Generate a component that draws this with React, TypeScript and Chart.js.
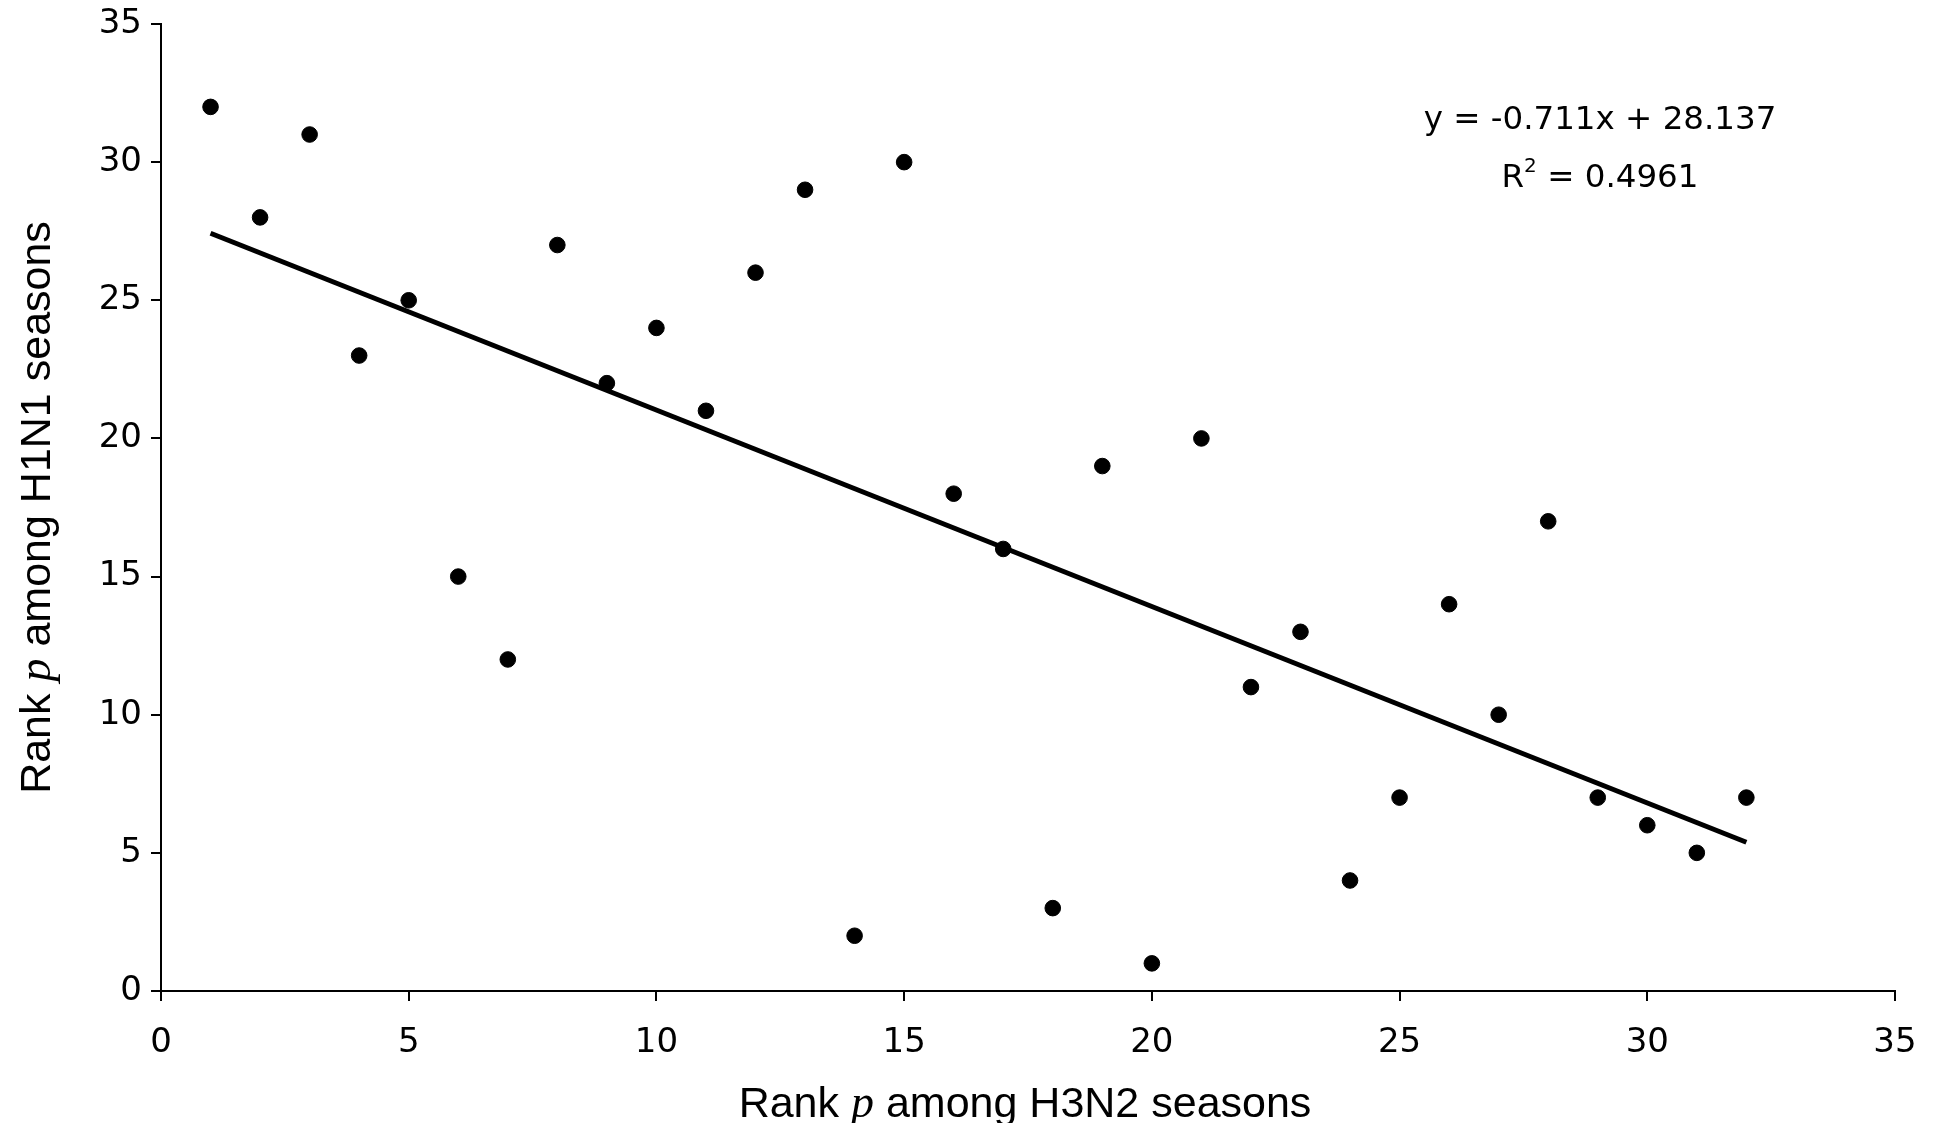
import React, { useEffect, useRef } from "react";
import { Chart, registerables } from "chart.js";

Chart.register(...registerables);

// H3N2 season rank (x) and H1N1 season rank (y)
const h3n2Rank = [1, 2, 3, 4, 5, 6, 7, 8, 9, 10, 11, 12, 13, 14, 15, 16, 17, 18, 19, 20, 21, 22, 23, 24, 25, 26, 27, 28, 29, 30, 31, 32];
const h1n1Rank = [32, 28, 31, 23, 25, 15, 12, 27, 22, 24, 21, 26, 29, 2, 30, 18, 16, 3, 19, 1, 20, 11, 13, 4, 7, 14, 10, 17, 7, 6, 5, 7];

// Linear trend line end points (y = -0.711x + 28.137)
const trendX = [1, 32];
const trendY = [27.426, 5.385];

const equationText = "y = -0.711x + 28.137";
const r2Value = "0.4961";

const xTitleParts = ["Rank ", "p", " among H3N2 seasons"];
const yTitleParts = ["Rank ", "p", " among H1N1 seasons"];

const axisMin = 0;
const axisMax = 35;
const tickStep = 5;

const SANS = "'Liberation Sans', Arial, sans-serif";
const SERIF = "'Liberation Serif', 'Times New Roman', serif";
const TICKFONT = "'DejaVu Sans', Verdana, sans-serif";

function drawTitle(ctx: CanvasRenderingContext2D, parts: string[], cx: number, cy: number, rotate: boolean) {
  ctx.save();
  ctx.translate(cx, cy);
  if (rotate) ctx.rotate(-Math.PI / 2);
  const fonts = [`43px ${SANS}`, `italic 46px ${SERIF}`, `43px ${SANS}`];
  let total = 0;
  const widths: number[] = [];
  parts.forEach((p, i) => {
    ctx.font = fonts[i];
    const w = ctx.measureText(p).width;
    widths.push(w);
    total += w;
  });
  let x = -total / 2;
  ctx.fillStyle = "#000";
  ctx.textBaseline = "middle";
  ctx.textAlign = "left";
  parts.forEach((p, i) => {
    ctx.font = fonts[i];
    ctx.fillText(p, x, 0);
    x += widths[i];
  });
  ctx.restore();
}

const textPlugin = {
  id: "customText",
  afterDraw(chart: any) {
    const ctx: CanvasRenderingContext2D = chart.ctx;
    const area = chart.chartArea;
    drawTitle(ctx, xTitleParts, (area.left + area.right) / 2 - 3, 1097, false);
    drawTitle(ctx, yTitleParts, 30, (area.top + area.bottom) / 2, true);

    // regression equation
    ctx.save();
    ctx.fillStyle = "#000";
    ctx.textBaseline = "middle";
    ctx.textAlign = "center";
    ctx.font = `32.5px ${TICKFONT}`;
    const cx = 1592;
    ctx.fillText(equationText, cx, 113);
    // R² line
    ctx.textAlign = "left";
    const rW = ctx.measureText("R").width;
    const rest = " = " + r2Value;
    const restW = ctx.measureText(rest).width;
    ctx.font = `20px ${TICKFONT}`;
    const supW = ctx.measureText("2").width;
    const total = rW + supW + restW;
    let x = cx - total / 2;
    ctx.font = `32.5px ${TICKFONT}`;
    ctx.fillText("R", x, 171);
    x += rW;
    ctx.font = `20px ${TICKFONT}`;
    ctx.fillText("2", x, 159);
    x += supW;
    ctx.font = `32.5px ${TICKFONT}`;
    ctx.fillText(rest, x, 171);
    ctx.restore();
  },
};

export default function App() {
  const ref = useRef<HTMLCanvasElement | null>(null);

  useEffect(() => {
    if (!ref.current) return;
    const points = h3n2Rank.map((x, i) => ({ x, y: h1n1Rank[i] }));
    const trend = trendX.map((x, i) => ({ x, y: trendY[i] }));
    const axisCommon = {
      type: "linear" as const,
      min: axisMin,
      max: axisMax,
      grid: {
        display: true,
        drawOnChartArea: false,
        drawTicks: true,
        tickLength: 10,
        color: "#000",
        lineWidth: 2,
      },
      border: { display: true, color: "#000", width: 2 },
      ticks: {
        stepSize: tickStep,
        color: "#000",
        font: { family: TICKFONT, size: 34, lineHeight: 1 },
      },
      title: { display: false },
    };
    const chart = new Chart(ref.current, {
      type: "scatter",
      data: {
        datasets: [
          {
            label: "Seasons",
            data: points,
            backgroundColor: "#000",
            borderColor: "#000",
            pointRadius: 7.8,
            pointHoverRadius: 7.8,
            showLine: false,
          },
          {
            label: "Linear trend",
            type: "line",
            data: trend,
            borderColor: "#000",
            borderWidth: 5,
            pointRadius: 0,
            showLine: true,
            fill: false,
          } as any,
        ],
      },
      options: {
        responsive: false,
        animation: false,
        layout: { padding: { left: 0, right: 32, top: 16, bottom: 0 } },
        plugins: {
          legend: { display: false },
          tooltip: { enabled: false },
        },
        scales: {
          x: {
            ...axisCommon,
            position: "bottom",
            ticks: { ...axisCommon.ticks, padding: 25, maxRotation: 0 },
            afterFit: (scale: any) => {
              scale.height = 132;
              scale.paddingLeft = 0;
              scale.paddingRight = 0;
            },
          },
          y: {
            ...axisCommon,
            position: "left",
            ticks: { ...axisCommon.ticks, padding: 9 },
            afterFit: (scale: any) => {
              scale.width = 153;
              scale.paddingTop = 0;
              scale.paddingBottom = 0;
            },
          },
        } as any,
      },
      plugins: [textPlugin],
    });
    return () => chart.destroy();
  }, []);

  return <canvas ref={ref} width={1919} height={1115} style={{ display: "block" }} />;
}
